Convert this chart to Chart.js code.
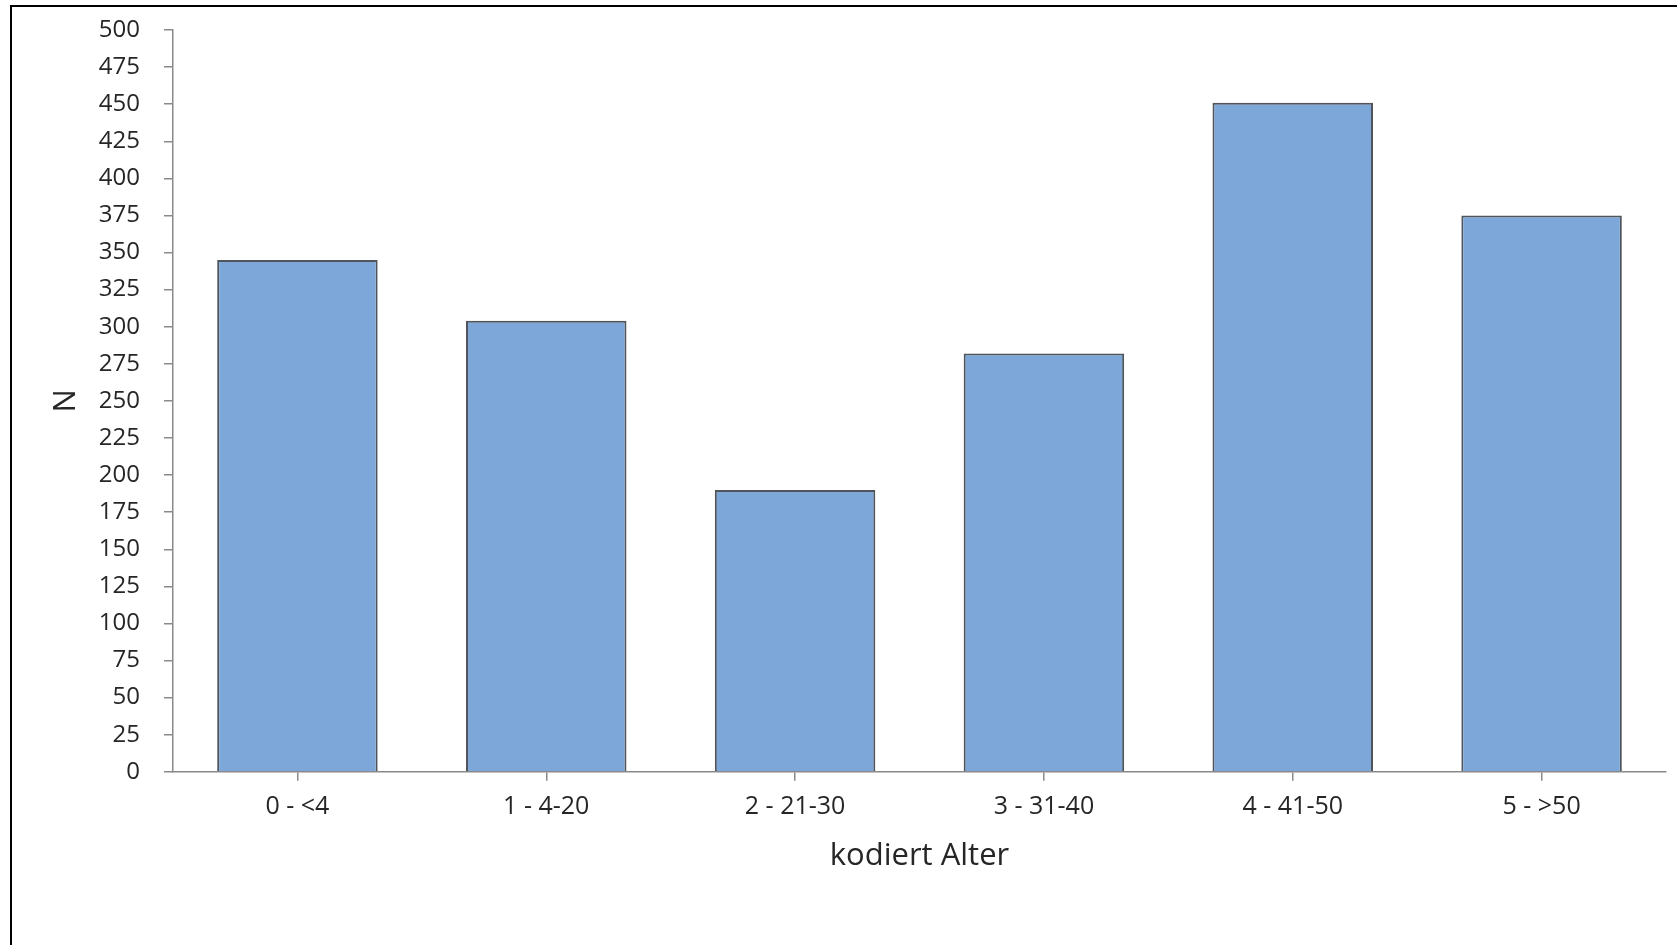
<!DOCTYPE html>
<html lang="de">
  <head>
    <meta charset="UTF-8" />
    <title>kodiert Alter</title>
    <style>
      html, body { margin: 0; padding: 0; background: #fff; overflow: hidden; }
      #wrap { position: relative; width: 1677px; height: 945px; }
      /* black frame, runs past the right and bottom edge like in the original */
      #frame { position: absolute; left: 10px; top: 5px; width: 2000px; height: 2000px;
               border: 2px solid #000; box-sizing: border-box; }
      canvas { position: absolute; left: 0; top: 0; }
    </style>
  </head>
  <body>
    <div id="wrap">
      <div id="frame"></div>
      <canvas id="chart" width="1677" height="945"></canvas>
    </div>

    <script src="https://cdn.jsdelivr.net/npm/chart.js@4/dist/chart.umd.min.js"></script>
    <script>
      // data
      var categories = ['0 - <4', '1 - 4-20', '2 - 21-30', '3 - 31-40', '4 - 41-50', '5 - >50'];
      var counts = [345, 304, 190, 282, 451, 375];
      var yTicks = [0, 25, 50, 75, 100, 125, 150, 175, 200, 225, 250, 275, 300, 325, 350, 375, 400, 425, 450, 475, 500];

      var axisGray = '#8a8a8a';
      var textGray = '#262626';
      var fontName = "'Open Sans', 'Noto Sans', sans-serif";

      Chart.defaults.font.family = fontName;
      Chart.defaults.color = textGray;

      var ctx = document.getElementById('chart');
      var barChart = new Chart(ctx, {
        type: 'bar',
        data: {
          labels: categories,
          datasets: [{
            label: 'N',
            data: counts,
            backgroundColor: '#7DA6D9',
            borderColor: '#50555b',
            borderWidth: 2,
            barPercentage: 0.645,
            categoryPercentage: 1
          }]
        },
        options: {
          responsive: false,
          animation: false,
          layout: { padding: { left: 44, right: 11, top: 30, bottom: 66 } },
          plugins: {
            legend: { display: false },
            tooltip: { enabled: false }
          },
          scales: {
            x: {
              grid: { display: true, drawOnChartArea: false, offset: false, tickLength: 9, color: axisGray, lineWidth: 1.5 },
              border: { color: axisGray, width: 1.5 },
              ticks: { font: { size: 25 }, color: textGray, padding: 11 },
              title: { display: true, text: 'kodiert Alter', font: { size: 31 }, color: textGray, padding: { top: 5, bottom: 4 } }
            },
            y: {
              min: 0,
              max: 500,
              afterBuildTicks: function (scale) {
                scale.ticks = yTicks.map(function (v) { return { value: v }; });
              },
              afterFit: function (scale) {
                scale.width = 129;
                // the label gap should not push the plot area down
                scale.paddingTop = 15;
                scale.paddingBottom = 15;
              },
              grid: { display: true, drawOnChartArea: false, tickLength: 9, color: axisGray, lineWidth: 1.5 },
              border: { color: axisGray, width: 1.5 },
              ticks: { font: { size: 24 }, color: textGray, padding: 24 },
              title: { display: true, text: 'N', font: { size: 31 }, color: textGray }
            }
          }
        }
      });
    </script>
  </body>
</html>
